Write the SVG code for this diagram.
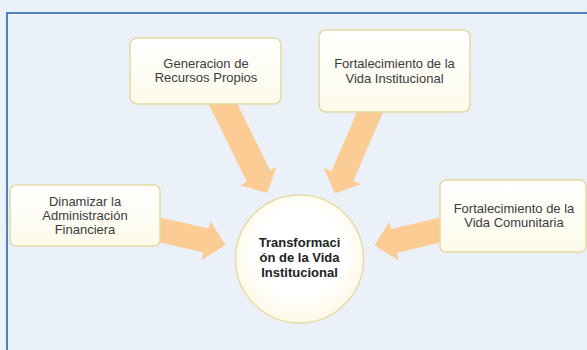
<svg xmlns="http://www.w3.org/2000/svg" width="587" height="350" viewBox="0 0 587 350">
<defs>
<pattern id="bg" width="4" height="4" patternUnits="userSpaceOnUse">
<rect width="4" height="4" fill="#e8eef7"/>
<rect width="2" height="2" fill="#eff3fa"/>
<rect x="2" y="2" width="2" height="2" fill="#eff3fa"/>
</pattern>
<linearGradient id="boxg" x1="0" y1="0" x2="0" y2="1">
<stop offset="0" stop-color="#ffffff"/>
<stop offset="1" stop-color="#fcfaea"/>
</linearGradient>
<radialGradient id="circg" cx="0.5" cy="0.45" r="0.55">
<stop offset="0.6" stop-color="#ffffff"/>
<stop offset="1" stop-color="#fdf9e6"/>
</radialGradient>
</defs>
<style>
.box{fill:url(#boxg);stroke:#e3daa4;stroke-width:1.5}
.arrow{fill:#fbcd95;stroke:none}
.t{font-family:"Liberation Sans",Arial,sans-serif;font-size:13px;fill:#3c3c3c;text-anchor:middle}
.tb{font-family:"Liberation Sans",Arial,sans-serif;font-size:13px;font-weight:bold;fill:#222222;text-anchor:middle}
</style>
<rect x="0" y="0" width="587" height="350" fill="url(#bg)"/>
<rect x="7" y="13" width="600" height="360" fill="none" stroke="#4f80bf" stroke-width="2"/>
<g id="connectors">
<polygon class="arrow" points="229.6,88.2 270.1,170.2 276.8,166.8 267,193 240.2,185.2 246.9,181.8 206.4,99.8"/>
<polygon class="arrow" points="363,98.1 331.5,171.3 323.7,167.9 335,193.5 361.3,184.1 353.5,180.7 385,107.5"/>
<polygon class="arrow" points="156.9,216.8 208.7,228.6 210.4,221 225.5,245 201.6,260 203.3,252.4 151.5,240.6"/>
<polygon class="arrow" points="443,216.7 391.2,229.1 389.4,221.5 374.5,245.6 398.6,260.5 396.8,252.9 448.6,240.5"/>
</g>
<g id="node-generacion">
<rect class="box" x="130" y="38" width="151" height="66" rx="7"/>
<text class="t" x="206" y="68">Generacion de</text>
<text class="t" x="206" y="82">Recursos Propios</text>
</g>
<g id="node-fort-institucional">
<rect class="box" x="319" y="30" width="151" height="82" rx="7"/>
<text class="t" x="394.5" y="68">Fortalecimiento de la</text>
<text class="t" x="394.5" y="83">Vida Institucional</text>
</g>
<g id="node-dinamizar">
<rect class="box" x="10" y="185" width="150" height="61" rx="6"/>
<text class="t" x="85" y="206">Dinamizar la</text>
<text class="t" x="85" y="220">Administración</text>
<text class="t" x="85" y="234">Financiera</text>
</g>
<g id="node-fort-comunitaria">
<rect class="box" x="440" y="180" width="146" height="72" rx="6"/>
<text class="t" x="514" y="213">Fortalecimiento de la</text>
<text class="t" x="514" y="227">Vida Comunitaria</text>
</g>
<g id="node-transformacion">
<circle cx="299.5" cy="259" r="64" fill="url(#circg)" stroke="#e6dca6" stroke-width="1.5"/>
<text class="tb" x="299.5" y="247">Transformaci</text>
<text class="tb" x="299.5" y="262">ón de la Vida</text>
<text class="tb" x="299.5" y="277">Institucional</text>
</g>
</svg>
